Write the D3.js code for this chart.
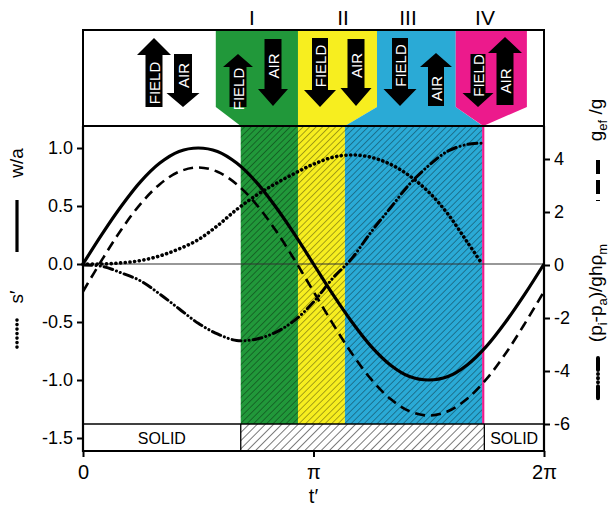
<!DOCTYPE html>
<html><head><meta charset="utf-8">
<script src="https://cdn.jsdelivr.net/npm/d3@7"></script>
<style>body{margin:0;background:#fff}svg{display:block}text{font-family:"Liberation Sans",Arial,sans-serif}</style>
</head><body><svg id="c" width="610" height="508"></svg>
<script>
// ---------- data ----------
const tGrid = [0,0.2618,0.5236,0.7854,1.0472,1.309,1.5708,1.8326,2.0944,2.3562,2.618,2.8798,3.1416,3.4034,3.6652,3.927,4.1888,4.4506,4.7124,4.9742,5.236,5.4978,5.7596,6.0214,6.2832];
const wa   = [0,0.26,0.5,0.71,0.87,0.97,1.0,0.97,0.87,0.71,0.5,0.26,0,-0.26,-0.5,-0.71,-0.87,-0.97,-1.0,-0.97,-0.87,-0.71,-0.5,-0.26,0];
const gef  = [-1,0.21,1.34,2.31,3.05,3.52,3.68,3.52,3.05,2.31,1.34,0.21,-1,-2.21,-3.34,-4.31,-5.05,-5.52,-5.68,-5.52,-5.05,-4.31,-3.34,-2.21,-1];
const tShort = [0,0.2618,0.5236,0.7854,1.0472,1.309,1.5708,1.8326,2.0944,2.3562,2.618,2.8798,3.1416,3.4034,3.6652,3.927,4.1888,4.4506,4.7124,4.9742,5.236,5.44];
const sPrime = [0,0,0.01,0.03,0.07,0.13,0.21,0.33,0.47,0.59,0.69,0.78,0.86,0.92,0.94,0.92,0.86,0.76,0.62,0.43,0.19,0];
const pDiff  = [0,-0.05,-0.3,-0.6,-1.1,-1.65,-2.2,-2.6,-2.85,-2.8,-2.55,-2.1,-1.4,-0.5,0.25,1.25,2.15,3.05,3.75,4.3,4.55,4.6];
const leftTicks = [-1.5,-1.0,-0.5,0.0,0.5,1.0];
const rightTicks = [-6,-4,-2,0,2,4];
const xTickVals = [0, Math.PI, 2*Math.PI];
const xTickLabels = ["0","π","2π"];
const phaseNames = ["I","II","III","IV"];
const phaseStart = [2.15,2.93,3.57,5.44];
const phaseEnd   = [2.93,3.57,5.44,5.47];
const phaseColors = ["#21983a","#f7ee1f","#2aaad6","#ec1a8c"];
const solidBands = [[0,2.15,"SOLID"],[5.47,2*Math.PI,"SOLID"]];

// ---------- layout ----------
const svg = d3.select("#c");
const x  = d3.scaleLinear().domain([0,2*Math.PI]).range([83,544]);
const yL = d3.scaleLinear().domain([-1.5,1]).range([438,148]);
const yR = d3.scaleLinear().domain([-6,4]).range([424,159]);
const topY0=30, topY1=126, bandY0=424, axisY=451, slantY=107;

const defs = svg.append("defs");
const pat = defs.append("pattern").attr("id","hatch").attr("patternUnits","userSpaceOnUse")
  .attr("width",4.6).attr("height",4.6).attr("patternTransform","rotate(45)");
pat.append("line").attr("x1",0).attr("y1",0).attr("x2",0).attr("y2",4.6).attr("stroke","rgba(0,0,0,0.55)").attr("stroke-width",1.2);
const pat2 = defs.append("pattern").attr("id","hatch2").attr("patternUnits","userSpaceOnUse")
  .attr("width",5.8).attr("height",5.8).attr("patternTransform","rotate(45)");
pat2.append("line").attr("x1",0).attr("y1",0).attr("x2",0).attr("y2",5.8).attr("stroke","#222").attr("stroke-width",1.2);

// main columns
phaseStart.forEach((s,i)=>{
  svg.append("rect").attr("x",x(s)).attr("y",topY1).attr("width",x(phaseEnd[i])-x(s)).attr("height",bandY0-topY1).attr("fill",phaseColors[i]);
});
svg.append("rect").attr("x",x(phaseStart[0])).attr("y",topY1).attr("width",x(phaseStart[3])-x(phaseStart[0])).attr("height",bandY0-topY1).attr("fill","url(#hatch)");

// top panel chevrons (x in t units)
const topEdges = [1.81,2.93,4.007,5.08,6.05];
const pts = [
  [[topEdges[0],topY0],[topEdges[1],topY0],[topEdges[1],topY1],[phaseStart[0],topY1],[topEdges[0],slantY]],
  [[topEdges[1],topY0],[topEdges[2],topY0],[topEdges[2],slantY],[phaseStart[2],topY1],[topEdges[1],topY1]],
  [[topEdges[2],topY0],[topEdges[3],topY0],[topEdges[3],slantY],[phaseEnd[2]+0.01,topY1],[phaseStart[2],topY1],[topEdges[2],slantY]],
  [[topEdges[3],topY0],[topEdges[4],topY0],[topEdges[4],slantY],[phaseEnd[3]-0.015,topY1],[topEdges[3],slantY]]
];
pts.forEach((p,i)=>{
  svg.append("polygon").attr("points",p.map(d=>[x(d[0]),d[1]].join(",")).join(" ")).attr("fill",phaseColors[i]);
});
// phase labels
const labelX = [252,343,408,485];
phaseNames.forEach((n,i)=>{
  svg.append("text").attr("x",labelX[i]).attr("y",25).attr("text-anchor","middle").attr("font-size",21).text(n);
});

// arrows
const arrows = [
  {cx:154,top:38,bot:107,sw:17,hw:34,hl:17,dir:"up",label:"FIELD"},
  {cx:183,top:54,bot:107,sw:18,hw:33,hl:14,dir:"down",label:"AIR"},
  {cx:238,top:54,bot:107,sw:17,hw:30,hl:13,dir:"up",label:"FIELD"},
  {cx:273,top:39,bot:106,sw:17,hw:30,hl:17,dir:"down",label:"AIR"},
  {cx:320,top:38,bot:107,sw:16,hw:32,hl:17,dir:"down",label:"FIELD"},
  {cx:356,top:39,bot:106,sw:17,hw:31,hl:18,dir:"down",label:"AIR"},
  {cx:400,top:38,bot:106,sw:16,hw:33,hl:17,dir:"down",label:"FIELD"},
  {cx:436,top:53,bot:106,sw:16,hw:32,hl:14,dir:"up",label:"AIR"},
  {cx:478,top:54,bot:107,sw:15,hw:31,hl:14,dir:"down",label:"FIELD"},
  {cx:505,top:37,bot:105,sw:17,hw:34,hl:16,dir:"up",label:"AIR"}
];
arrows.forEach(a=>{
  const s=a.sw/2,h=a.hw/2;
  let p,tc;
  if(a.dir==="up"){
    p=[[a.cx,a.top],[a.cx+h,a.top+a.hl],[a.cx+s,a.top+a.hl],[a.cx+s,a.bot],[a.cx-s,a.bot],[a.cx-s,a.top+a.hl],[a.cx-h,a.top+a.hl]];
    tc=(a.top+a.hl+a.bot)/2;
  } else {
    p=[[a.cx,a.bot],[a.cx+h,a.bot-a.hl],[a.cx+s,a.bot-a.hl],[a.cx+s,a.top],[a.cx-s,a.top],[a.cx-s,a.bot-a.hl],[a.cx-h,a.bot-a.hl]];
    tc=(a.top+a.bot-a.hl)/2;
  }
  svg.append("polygon").attr("points",p.map(d=>d.join(",")).join(" ")).attr("fill","#000");
  svg.append("text").attr("transform",`translate(${a.cx+5.5},${tc+2}) rotate(-90)`).attr("text-anchor","middle")
    .attr("fill","#fff").attr("font-size",15).text(a.label);
});

// SOLID band
svg.append("rect").attr("x",x(phaseStart[0])).attr("y",bandY0).attr("width",x(phaseEnd[3])-x(phaseStart[0])).attr("height",axisY-bandY0).attr("fill","url(#hatch2)");
solidBands.forEach(b=>{
  svg.append("text").attr("x",(x(b[0])+x(b[1]))/2).attr("y",bandY0+20).attr("text-anchor","middle").attr("font-size",16).text(b[2]);
});
[phaseStart[0],phaseEnd[3]].forEach(t=>{
  svg.append("line").attr("x1",x(t)).attr("x2",x(t)).attr("y1",bandY0).attr("y2",axisY).attr("stroke","#000").attr("stroke-width",1.3);
});
svg.append("line").attr("x1",x(0)).attr("x2",x(2*Math.PI)).attr("y1",bandY0).attr("y2",bandY0).attr("stroke","#000").attr("stroke-width",1.5);

// zero line
svg.append("line").attr("x1",x(0)).attr("x2",x(2*Math.PI)).attr("y1",yL(0)).attr("y2",yL(0)).attr("stroke","#333").attr("stroke-width",1.2);

// curves
const lineL = (ts,vs)=>d3.line().x((d,i)=>x(ts[i])).y(d=>yL(d)).curve(d3.curveCatmullRom)(vs);
const lineR = (ts,vs)=>d3.line().x((d,i)=>x(ts[i])).y(d=>yR(d)).curve(d3.curveCatmullRom)(vs);
svg.append("path").attr("d",lineL(tShort,sPrime)).attr("fill","none").attr("stroke","#000").attr("stroke-width",3.6).attr("stroke-linecap","round").attr("stroke-dasharray","0.1,4.6");
svg.append("path").attr("d",lineR(tShort,pDiff)).attr("fill","none").attr("stroke","#000").attr("stroke-width",3).attr("stroke-linecap","round").attr("stroke-dasharray","9,4,0.1,4,0.1,4");
svg.append("path").attr("d",lineR(tGrid,gef)).attr("fill","none").attr("stroke","#000").attr("stroke-width",2.6).attr("stroke-dasharray","10,6");
svg.append("path").attr("d",lineL(tGrid,wa)).attr("fill","none").attr("stroke","#000").attr("stroke-width",3.2);

// frames
svg.append("rect").attr("x",x(0)).attr("y",topY0).attr("width",x(2*Math.PI)-x(0)).attr("height",topY1-topY0).attr("fill","none").attr("stroke","#000").attr("stroke-width",2);
svg.append("line").attr("x1",x(0)).attr("x2",x(0)).attr("y1",topY1).attr("y2",axisY+1).attr("stroke","#000").attr("stroke-width",2.2);
svg.append("line").attr("x1",x(2*Math.PI)).attr("x2",x(2*Math.PI)).attr("y1",topY1).attr("y2",axisY+1).attr("stroke","#000").attr("stroke-width",2.2);
svg.append("line").attr("x1",x(0)-1).attr("x2",x(2*Math.PI)+1).attr("y1",axisY).attr("y2",axisY).attr("stroke","#000").attr("stroke-width",2.2);

// axes
const gl = svg.append("g").attr("transform",`translate(${x(0)},0)`)
  .call(d3.axisLeft(yL).tickValues(leftTicks).tickFormat(d=>d.toFixed(1)).tickSize(6).tickPadding(4));
const gr = svg.append("g").attr("transform",`translate(${x(2*Math.PI)},0)`)
  .call(d3.axisRight(yR).tickValues(rightTicks).tickFormat(d=>String(d)).tickSize(6).tickPadding(4));
const gb = svg.append("g").attr("transform",`translate(0,${axisY})`)
  .call(d3.axisBottom(x).tickValues(xTickVals).tickFormat((d,i)=>xTickLabels[i]).tickSize(6).tickPadding(8));
[gl,gr,gb].forEach(g=>{
  g.select(".domain").remove();
  g.selectAll(".tick line").attr("stroke","#000").attr("stroke-width",2);
  g.selectAll(".tick text").attr("font-size",18).attr("fill","#000").attr("font-family","Liberation Sans, Arial, sans-serif");
});
gb.selectAll(".tick text").attr("font-size",20);
svg.append("text").attr("x",x(Math.PI)).attr("y",503).attr("text-anchor","middle").attr("font-size",20).text("t′");

// left legends
function vtext(cx,cy){return svg.append("text").attr("transform",`translate(${cx},${cy}) rotate(-90)`).attr("text-anchor","middle").attr("font-size",19);}
vtext(23,163).text("w/a");
svg.append("line").attr("x1",17).attr("x2",17).attr("y1",200).attr("y2",252).attr("stroke","#000").attr("stroke-width",3.2);
vtext(23,297).text("s′");
svg.append("line").attr("x1",17).attr("x2",17).attr("y1",320).attr("y2",348).attr("stroke","#000").attr("stroke-width",3.6).attr("stroke-linecap","round").attr("stroke-dasharray","0.1,4.4");

// right legends
const t1 = vtext(602,120);
t1.append("tspan").text("g");
t1.append("tspan").attr("font-size",13).attr("dy",5).text("ef");
t1.append("tspan").attr("dy",-5).text(" /g");
svg.append("line").attr("x1",598).attr("x2",598).attr("y1",160).attr("y2",201).attr("stroke","#000").attr("stroke-width",4).attr("stroke-dasharray","14,6");
const t2 = vtext(602,293);
t2.append("tspan").text("(p");
t2.append("tspan").attr("font-size",13).attr("dy",5).text("i");
t2.append("tspan").attr("dy",-5).text("-p");
t2.append("tspan").attr("font-size",13).attr("dy",5).text("a");
t2.append("tspan").attr("dy",-5).text(")/ghρ");
t2.append("tspan").attr("font-size",13).attr("dy",5).text("m");
svg.append("line").attr("x1",598).attr("x2",598).attr("y1",358).attr("y2",402).attr("stroke","#000").attr("stroke-width",4).attr("stroke-linecap","round").attr("stroke-dasharray","12,4,0.1,4,0.1,4,0.1,4");
</script></body></html>
